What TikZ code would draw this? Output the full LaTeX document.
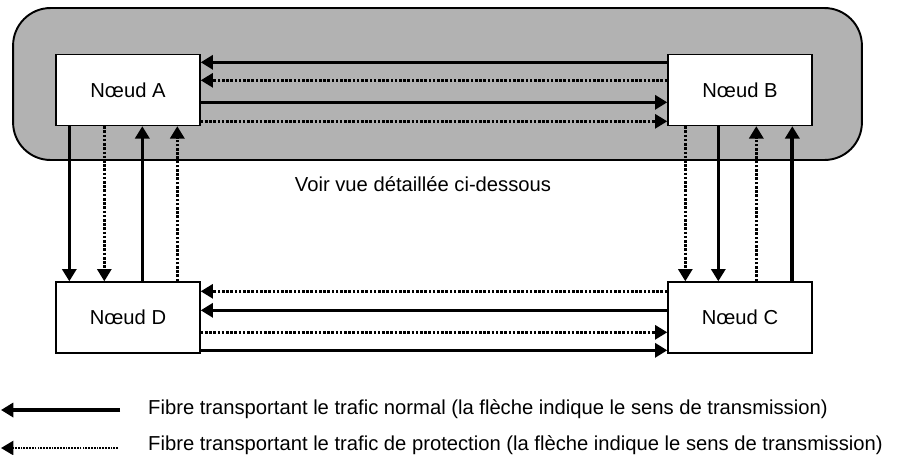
\documentclass[tikz,border=0pt]{standalone}
\usepackage{fontspec}
\setmainfont{Liberation Sans}
\usetikzlibrary{arrows.meta,calc}

\begin{document}
\begin{tikzpicture}[
    x=0.02cm, y=-0.02cm,
    font=\fontsize{11.5}{13}\selectfont,
    zone/.style={draw, line width=1.1pt, fill=black!30, rounded corners=0.75cm, minimum width=16.98cm, minimum height=3.04cm},
    noeud/.style={draw, line width=0.8pt, fill=white, minimum width=2.88cm, minimum height=1.42cm},
    normal/.style={line width=1.8pt, -{Triangle[length=7pt,width=8pt]}},
    protection/.style={line width=1.6pt, dash pattern=on 1.5pt off 0.9pt, -{Triangle[length=7pt,width=8pt]}},
    legende/.style={anchor=west}
]
\useasboundingbox (0,0) rectangle (900,454);

\node[zone] at (437.5,84) (zone) {};

\node[noeud] at (128,90) (A) {Nœud A};
\node[noeud] at (740,90) (B) {Nœud B};
\node[noeud] at (128,317.5) (D) {Nœud D};
\node[noeud] at (740,317.5) (C) {Nœud C};

\node at (423,184) (voir) {Voir vue détaillée ci-dessous};

% A <-> B
\draw[normal] ($(B.north west)+(0,8.5)$) -- ($(A.north east)+(0,8.5)$);
\draw[protection] ($(B.north west)+(0,26.5)$) -- ($(A.north east)+(0,26.5)$);
\draw[normal] ($(A.north east)+(0,48.5)$) -- ($(B.north west)+(0,48.5)$);
\draw[protection] ($(A.north east)+(0,67.5)$) -- ($(B.north west)+(0,67.5)$);

% A <-> D
\draw[normal] ($(A.south west)+(14,0)$) -- ($(D.north west)+(14,0)$);
\draw[protection] ($(A.south west)+(49,0)$) -- ($(D.north west)+(49,0)$);
\draw[normal] ($(D.north west)+(87,0)$) -- ($(A.south west)+(87,0)$);
\draw[protection] ($(D.north west)+(122,0)$) -- ($(A.south west)+(122,0)$);

% B <-> C
\draw[protection] ($(B.south west)+(18,0)$) -- ($(C.north west)+(18,0)$);
\draw[normal] ($(B.south west)+(51,0)$) -- ($(C.north west)+(51,0)$);
\draw[protection] ($(C.north west)+(89,0)$) -- ($(B.south west)+(89,0)$);
\draw[normal, line width=2.2pt] ($(C.north west)+(125,0)$) -- ($(B.south west)+(125,0)$);

% C <-> D
\draw[protection] ($(C.north west)+(0,10)$) -- ($(D.north east)+(0,10)$);
\draw[normal] ($(C.north west)+(0,29)$) -- ($(D.north east)+(0,29)$);
\draw[protection] ($(D.north east)+(0,51)$) -- ($(C.north west)+(0,51)$);
\draw[normal] ($(D.north east)+(0,69)$) -- ($(C.north west)+(0,69)$);

% legende
\coordinate (n1) at (120,410);
\coordinate (n0) at (1,410);
\coordinate (p1) at (118,448);
\coordinate (p0) at (1,448);
\draw[normal] (n1) -- (n0);
\draw[protection, line width=1.2pt, dash pattern=on 1pt off 0.6pt] (p1) -- (p0);
\node[legende] at (142,409) (ln) {Fibre transportant le trafic normal (la flèche indique le sens de transmission)};
\node[legende] at (142,445) (lp) {Fibre transportant le trafic de protection (la flèche indique le sens de transmission)};
\end{tikzpicture}
\end{document}
